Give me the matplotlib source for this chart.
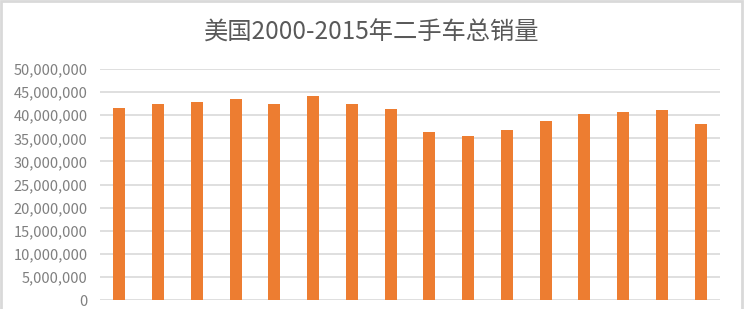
import matplotlib.pyplot as plt
from matplotlib.patches import Rectangle
from matplotlib.ticker import FuncFormatter

plt.rcParams['font.family'] = ['Noto Sans CJK SC', 'DejaVu Sans']

# data
years = [str(y) for y in range(2000, 2016)]
sales = [41500000, 42500000, 42900000, 43500000, 42500000, 44100000, 42500000, 41300000,
         36400000, 35500000, 36800000, 38700000, 40300000, 40800000, 41100000, 38100000]
y_ticks = list(range(0, 50000001, 5000000))

fig = plt.figure(figsize=(7.44, 3.09), dpi=100)
ax = fig.add_axes([100 / 744, 9 / 309, 620 / 744, 231 / 309])

x = range(len(years))
ax.bar(x, sales, width=0.31, color="#ED7D31", zorder=3)
ax.set_xlim(-0.5, len(years) - 0.5)
ax.set_ylim(0, 50000000)
ax.set_yticks(y_ticks)
ax.yaxis.set_major_formatter(FuncFormatter(lambda v, p: "{:,.0f}".format(v)))
ax.set_xticks(list(x))
ax.set_xticklabels([])
ax.tick_params(axis="both", length=0)
ax.tick_params(axis="y", labelsize=10.5, labelcolor="#7f7f7f", pad=9)
ax.grid(axis="y", color="#d9d9d9", linewidth=1.2, zorder=0)
for s in ax.spines.values():
    s.set_visible(False)

fig.text(372 / 744, 1 - 33 / 309, "美国2000-2015年二手车总销量", ha="center", va="center",
         fontsize=17.5, color="#595959")

# outer frame of the chart area
fig.patches.append(Rectangle((0.5 / 744, -0.1), 741 / 744, 1.1 - 1 / 309, transform=fig.transFigure,
                             fill=False, edgecolor="#d9d9d9", linewidth=2))

fig.savefig("out.png", dpi=100)
